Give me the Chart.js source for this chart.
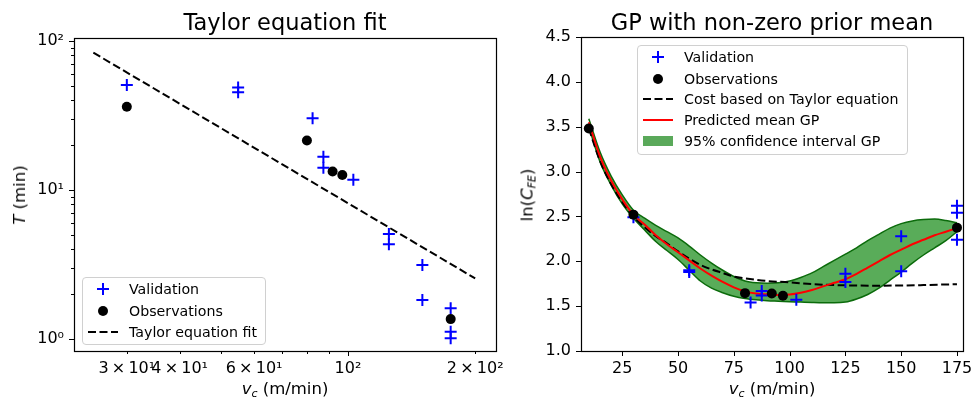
<!DOCTYPE html>
<html>
<head>
<meta charset="utf-8">
<script src="https://cdn.jsdelivr.net/npm/chart.js@4.4.1/dist/chart.umd.min.js"></script>
<style>
body{margin:0;background:#fff;width:971px;height:401px;overflow:hidden;position:relative;font-family:"DejaVu Sans",sans-serif;color:#000;}
canvas{position:absolute;top:0;}
#c1{left:0;}
#c2{left:520px;}
.ttl{position:absolute;top:11px;font-size:22.5px;line-height:22px;white-space:nowrap;transform:translateX(-50%);}
.lab{position:absolute;font-size:16.5px;line-height:18px;white-space:nowrap;transform:translate(-50%,-50%);}
.rot{transform:translate(-50%,-50%) rotate(-90deg);}
.lab sub{font-size:11px;vertical-align:-3px;}
.leg{position:absolute;border:1px solid #d0d0d0;border-radius:4px;background:rgba(255,255,255,0.8);font-size:14.2px;box-sizing:border-box;}
.row{position:absolute;left:0;height:20px;width:100%;}
.row svg{position:absolute;left:0;top:0;}
.row span{position:absolute;left:46px;top:0;line-height:20px;white-space:nowrap;}
</style>
</head>
<body>
<canvas id="c1" width="520" height="401"></canvas>
<canvas id="c2" width="451" height="401"></canvas>

<div class="ttl" style="left:285px">Taylor equation fit</div>
<div class="ttl" style="left:772px">GP with non-zero prior mean</div>

<div class="lab rot" style="left:20px;top:195px"><i>T</i> (min)</div>
<div class="lab" style="left:285px;top:391px"><i>v</i><sub><i>c</i></sub> (m/min)</div>
<div class="lab rot" style="left:530px;top:195px">ln(<i>C</i><sub><i>FE</i></sub>)</div>
<div class="lab" style="left:772px;top:391px"><i>v</i><sub><i>c</i></sub> (m/min)</div>

<div class="leg" style="left:82px;top:277px;width:184px;height:68px">
  <div class="row" style="top:1px"><svg width="40" height="20"><line x1="14" y1="10" x2="26" y2="10" stroke="#0000ff" stroke-width="2"/><line x1="20" y1="4" x2="20" y2="16" stroke="#0000ff" stroke-width="2"/></svg><span>Validation</span></div>
  <div class="row" style="top:22.5px"><svg width="40" height="20"><circle cx="20" cy="10" r="5" fill="#000"/></svg><span>Observations</span></div>
  <div class="row" style="top:44px"><svg width="40" height="20"><line x1="5" y1="10" x2="35" y2="10" stroke="#000" stroke-width="2" stroke-dasharray="8,3.5"/></svg><span>Taylor equation fit</span></div>
</div>

<div class="leg" style="left:637px;top:45px;width:271px;height:110px">
  <div class="row" style="top:1px"><svg width="40" height="20"><line x1="14" y1="10" x2="26" y2="10" stroke="#0000ff" stroke-width="2"/><line x1="20" y1="4" x2="20" y2="16" stroke="#0000ff" stroke-width="2"/></svg><span>Validation</span></div>
  <div class="row" style="top:22.5px"><svg width="40" height="20"><circle cx="20" cy="10" r="5" fill="#000"/></svg><span>Observations</span></div>
  <div class="row" style="top:43px"><svg width="40" height="20"><line x1="5" y1="10" x2="35" y2="10" stroke="#000" stroke-width="2" stroke-dasharray="8,3.5"/></svg><span>Cost based on Taylor equation</span></div>
  <div class="row" style="top:64px"><svg width="40" height="20"><line x1="5" y1="10" x2="35" y2="10" stroke="#ff0000" stroke-width="2"/></svg><span>Predicted mean GP</span></div>
  <div class="row" style="top:85px"><svg width="40" height="20"><rect x="5" y="5" width="30" height="10" fill="#5aa95a"/></svg><span>95% confidence interval GP</span></div>
</div>

<script>
// ---- left plot: tool life vs cutting speed (log-log)
var valV = [30, 55, 55, 82.5, 87.5, 87.5, 103, 125, 125, 150, 150, 175, 175, 175];
var valT = [50.7, 48.8, 45.3, 30.3, 16.7, 14.1, 11.7, 5.07, 4.33, 3.14, 1.83, 1.61, 1.12, 1.01];
var obsV = [30, 80, 92, 97, 175];
var obsT = [36.2, 21.5, 13.3, 12.6, 1.36];
var taylorV = [25, 200];
var taylorT = [83.5, 2.55];

var xTicksL = [30, 40, 50, 60, 70, 80, 90, 100, 200];
var xTickTextL = ['3\u2009×\u200910¹', '4\u2009×\u200910¹', '', '6\u2009×\u200910¹', '', '', '', '10²', '2\u2009×\u200910²'];
var xMajorL = [100];
var yTicksL = [1, 2, 3, 4, 5, 6, 7, 8, 9, 10, 20, 30, 40, 50, 60, 70, 80, 90, 100];
var yMajorL = [1, 10, 100];
var yTickTextL = {1: '10⁰', 10: '10¹', 100: '10²'};

// ---- right plot: cost vs cutting speed
var valCost = [2.49, 1.90, 1.88, 1.54, 1.67, 1.62, 1.57, 1.86, 1.77, 2.28, 1.89, 2.62, 2.54, 2.24];
var obsV2 = [10, 30, 80, 92, 97, 175];
var obsCost = [3.48, 2.52, 1.645, 1.64, 1.615, 2.375];

var gpX = [10, 15, 20, 25, 30, 35, 40, 45, 50, 55, 60, 65, 70, 75, 80, 85, 90, 95, 100, 105, 110, 115, 120, 125, 130, 135, 140, 145, 150, 155, 160, 165, 170, 175];
var gpMean = [3.55, 3.17, 2.90, 2.69, 2.52, 2.41, 2.29, 2.19, 2.10, 2.01, 1.92, 1.84, 1.77, 1.71, 1.665, 1.64, 1.63, 1.625, 1.63, 1.65, 1.68, 1.72, 1.76, 1.80, 1.86, 1.93, 2.00, 2.07, 2.13, 2.19, 2.24, 2.29, 2.33, 2.37];
var gpUpper = [3.59, 3.22, 2.95, 2.74, 2.57, 2.48, 2.40, 2.33, 2.26, 2.17, 2.07, 1.98, 1.90, 1.83, 1.78, 1.76, 1.755, 1.76, 1.78, 1.82, 1.87, 1.94, 2.01, 2.08, 2.15, 2.23, 2.30, 2.37, 2.42, 2.45, 2.465, 2.47, 2.455, 2.43];
var gpLower = [3.50, 3.11, 2.85, 2.64, 2.48, 2.35, 2.22, 2.12, 2.02, 1.90, 1.78, 1.70, 1.65, 1.61, 1.585, 1.57, 1.56, 1.555, 1.55, 1.545, 1.54, 1.537, 1.537, 1.545, 1.58, 1.63, 1.70, 1.79, 1.88, 1.98, 2.07, 2.15, 2.23, 2.33];

var costX = [10, 15, 20, 25, 30, 35, 40, 45, 50, 55, 60, 65, 70, 75, 80, 90, 100, 110, 120, 130, 140, 150, 160, 175];
var costY = [3.48, 3.12, 2.86, 2.66, 2.50, 2.38, 2.28, 2.20, 2.11, 2.03, 1.96, 1.91, 1.87, 1.83, 1.81, 1.78, 1.765, 1.745, 1.735, 1.73, 1.728, 1.73, 1.735, 1.745];

var xTicksR = [25, 50, 75, 100, 125, 150, 175];
var yTicksR = [1.0, 1.5, 2.0, 2.5, 3.0, 3.5, 4.0, 4.5];

function pts(xs, ys) {
    return xs.map(function(v, i) { return {x: v, y: ys[i]}; });
}

// box round the axes + major/minor tick marks (matplotlib style)
var frameTicks = {
    id: 'frameTicks',
    afterDatasetsDraw: function(chart, args, o) {
        var ctx = chart.ctx, a = chart.chartArea, sx = chart.scales.x, sy = chart.scales.y;
        ctx.save();
        ctx.strokeStyle = '#000';
        ctx.lineWidth = 1;
        function tick(x1, y1, x2, y2) {
            ctx.beginPath(); ctx.moveTo(x1, y1); ctx.lineTo(x2, y2); ctx.stroke();
        }
        o.xTicks.forEach(function(v) {
            var p = Math.round(sx.getPixelForValue(v)) + 0.5;
            var len = o.xMajor.indexOf(v) >= 0 ? 5 : 3;
            tick(p, a.bottom, p, a.bottom + len);
        });
        o.yTicks.forEach(function(v) {
            var p = Math.round(sy.getPixelForValue(v)) + 0.5;
            var len = o.yMajor.indexOf(v) >= 0 ? 5 : 3;
            tick(a.left, p, a.left - len, p);
        });
        ctx.lineWidth = 1.2;
        ctx.strokeRect(Math.round(a.left) + 0.5, Math.round(a.top) + 0.5, Math.round(a.right - a.left), Math.round(a.bottom - a.top));
        ctx.restore();
    }
};

var tickFont = {family: 'DejaVu Sans', size: 16};

new Chart(document.getElementById('c1'), {
    type: 'scatter',
    data: {
        datasets: [
            {label: 'Observations', data: pts(obsV, obsT), pointStyle: 'circle', pointRadius: 5, backgroundColor: '#000', borderWidth: 0},
            {label: 'Validation', data: pts(valV, valT), pointStyle: 'cross', pointRadius: 6, borderColor: '#0000ff', borderWidth: 2},
            {label: 'Taylor equation fit', type: 'line', data: pts(taylorV, taylorT), borderColor: '#000', borderWidth: 2, borderDash: [8, 3.5], pointRadius: 0, fill: false}
        ]
    },
    options: {
        responsive: false, animation: false, devicePixelRatio: 1,
        layout: {padding: {top: 38, right: 24, left: 0, bottom: 0}},
        plugins: {
            legend: {display: false}, tooltip: {enabled: false},
            frameTicks: {xTicks: xTicksL, xMajor: xMajorL, yTicks: yTicksL, yMajor: yMajorL}
        },
        scales: {
            x: {
                type: 'logarithmic', min: 22.5, max: 224,
                grid: {display: false, drawTicks: true, tickLength: 5}, border: {display: false},
                afterBuildTicks: function(s) { s.ticks = xTicksL.map(function(v) { return {value: v}; }); },
                afterFit: function(s) { s.height = 50; s.paddingLeft = 0; s.paddingRight = 0; },
                ticks: {autoSkip: false, maxRotation: 0, minRotation: 0, color: '#000', font: tickFont, padding: 3,
                        callback: function(v, i) { return xTickTextL[i]; }}
            },
            y: {
                type: 'logarithmic', min: 0.831, max: 104.7,
                grid: {display: false, drawTicks: true, tickLength: 5}, border: {display: false},
                afterBuildTicks: function(s) { s.ticks = yTicksL.map(function(v) { return {value: v}; }); },
                afterFit: function(s) { s.width = 74; s.paddingTop = 0; s.paddingBottom = 0; },
                ticks: {autoSkip: false, color: '#000', font: tickFont, padding: 5,
                        callback: function(v) { return yTickTextL[v] || ''; }}
            }
        }
    },
    plugins: [frameTicks]
});

new Chart(document.getElementById('c2'), {
    type: 'scatter',
    data: {
        datasets: [
            {label: 'Observations', data: pts(obsV2, obsCost), pointStyle: 'circle', pointRadius: 5, backgroundColor: '#000', borderWidth: 0},
            {label: 'Validation', data: pts(valV, valCost), pointStyle: 'cross', pointRadius: 6, borderColor: '#0000ff', borderWidth: 2},
            {label: 'Predicted mean GP', type: 'line', data: pts(gpX, gpMean), borderColor: '#ff0000', borderWidth: 2, pointRadius: 0, cubicInterpolationMode: 'monotone', fill: false},
            {label: 'Cost based on Taylor equation', type: 'line', data: pts(costX, costY), borderColor: '#000', borderWidth: 2, borderDash: [8, 3.5], pointRadius: 0, cubicInterpolationMode: 'monotone', fill: false},
            {label: 'lower', type: 'line', data: pts(gpX, gpLower), borderColor: '#0b6b0b', borderWidth: 1.5, pointRadius: 0, cubicInterpolationMode: 'monotone', fill: false},
            {label: '95% confidence interval GP', type: 'line', data: pts(gpX, gpUpper), borderColor: '#0b6b0b', borderWidth: 1.5, pointRadius: 0, cubicInterpolationMode: 'monotone', fill: '-1', backgroundColor: 'rgba(0,128,0,0.65)'}
        ]
    },
    options: {
        responsive: false, animation: false, devicePixelRatio: 1,
        layout: {padding: {top: 37, right: 8, left: 0, bottom: 0}},
        plugins: {
            legend: {display: false}, tooltip: {enabled: false},
            frameTicks: {xTicks: xTicksR, xMajor: xTicksR, yTicks: yTicksR, yMajor: yTicksR}
        },
        scales: {
            x: {
                type: 'linear', min: 6.5, max: 177.7,
                grid: {display: false, drawTicks: true, tickLength: 5}, border: {display: false},
                afterBuildTicks: function(s) { s.ticks = xTicksR.map(function(v) { return {value: v}; }); },
                afterFit: function(s) { s.height = 50; s.paddingLeft = 0; s.paddingRight = 0; },
                ticks: {autoSkip: false, maxRotation: 0, minRotation: 0, color: '#000', font: tickFont, padding: 3,
                        callback: function(v) { return String(v); }}
            },
            y: {
                type: 'linear', min: 1, max: 4.5,
                grid: {display: false, drawTicks: true, tickLength: 5}, border: {display: false},
                afterBuildTicks: function(s) { s.ticks = yTicksR.map(function(v) { return {value: v}; }); },
                afterFit: function(s) { s.width = 61; s.paddingTop = 0; s.paddingBottom = 0; },
                ticks: {autoSkip: false, color: '#000', font: tickFont, padding: 5,
                        callback: function(v) { return v.toFixed(1); }}
            }
        }
    },
    plugins: [frameTicks]
});
</script>
</body>
</html>
